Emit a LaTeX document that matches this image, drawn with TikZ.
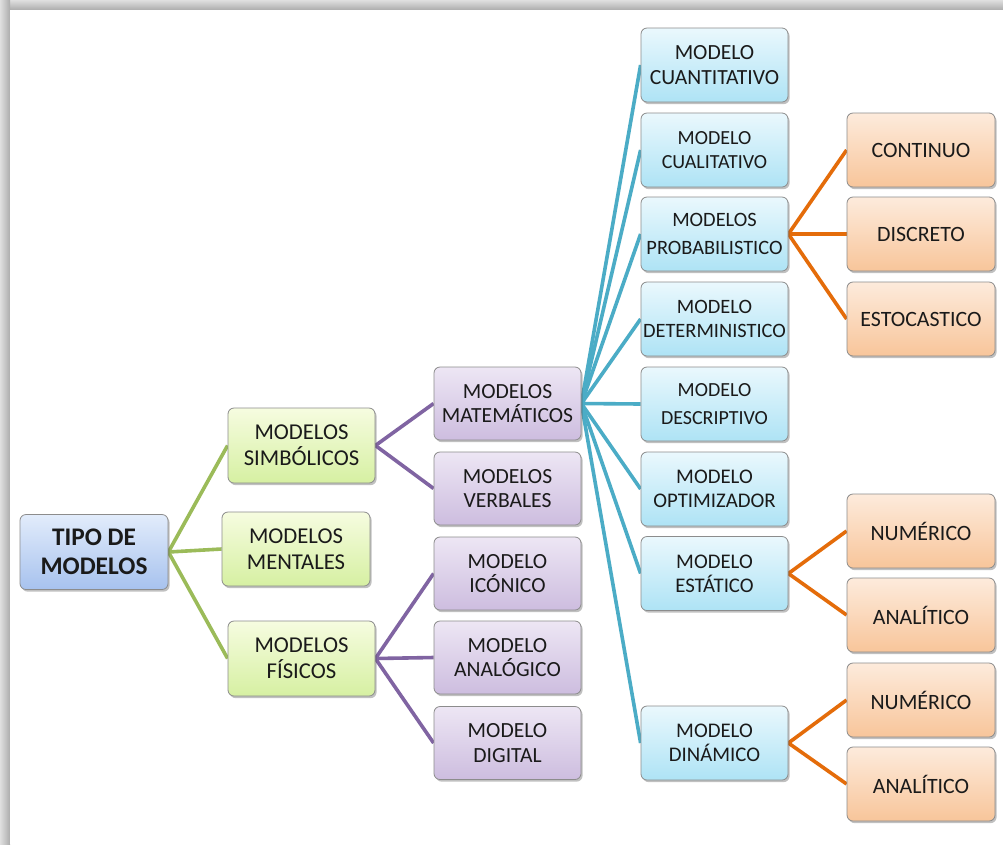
\documentclass[tikz,border=0pt]{standalone}
\usepackage{fontspec}
\setmainfont{Carlito}
\usetikzlibrary{shadows}
\pgfdeclarelayer{bg}
\pgfdeclarelayer{edges}
\pgfsetlayers{bg,edges,main}

\definecolor{gline}{HTML}{9BBB59}
\definecolor{pline}{HTML}{8064A2}
\definecolor{cline}{HTML}{4BACC6}
\definecolor{oline}{HTML}{E46C0A}
\definecolor{rootT}{HTML}{E2ECFB}
\definecolor{rootB}{HTML}{A7C2EE}
\definecolor{greenT}{HTML}{F6FCE0}
\definecolor{greenB}{HTML}{D6F0A2}
\definecolor{purpT}{HTML}{EDE6F4}
\definecolor{purpB}{HTML}{CDBDDF}
\definecolor{cyanT}{HTML}{EAF8FD}
\definecolor{cyanB}{HTML}{AEE3F5}
\definecolor{orT}{HTML}{FDEBDC}
\definecolor{orB}{HTML}{F8C59A}
\definecolor{boxedge}{HTML}{8C8C8C}
\definecolor{textc}{HTML}{1A1A1A}

\tikzset{
  box/.style={rectangle, rounded corners=4.5pt, draw=boxedge, line width=0.6pt,
    minimum width=110.25pt, minimum height=55.5pt, inner sep=0pt, align=center,
    text=textc,
    drop shadow={opacity=0.35, shadow xshift=1.2pt, shadow yshift=-1.6pt, fill=black!70}},
  rootbox/.style={box, top color=rootT, bottom color=rootB, minimum width=111pt, minimum height=56.25pt,
    font=\fontsize{19}{21.5}\selectfont\bfseries},
  greenbox/.style={box, top color=greenT, bottom color=greenB, minimum height=56.25pt,
    font=\fontsize{17}{19.5}\selectfont},
  purpbox/.style={box, top color=purpT, bottom color=purpB, minimum height=54.75pt,
    font=\fontsize{16.2}{18.6}\selectfont},
  cyanbox/.style={box, top color=cyanT, bottom color=cyanB,
    font=\fontsize{15.6}{18}\selectfont},
  orbox/.style={box, top color=orT, bottom color=orB, minimum width=111pt,
    font=\fontsize{16.4}{19}\selectfont},
  conn/.style={line width=2.7pt},
}

\begin{document}
\begin{tikzpicture}[x=0.75pt,y=-0.75pt]
\useasboundingbox (0,0) rectangle (1003,844);
\begin{pgfonlayer}{bg}
  \fill[white] (0,0) rectangle (1003,844);
  \shade[top color=gray!25, bottom color=gray!65] (0,0) rectangle (1003,10);
  \shade[left color=gray!25, right color=gray!65] (0,0) rectangle (10,844);
  \fill[white] (10,10) rectangle (1003,844);
\end{pgfonlayer}

% root
\node[rootbox] (root) at (94,552) {TIPO DE\\MODELOS};

% level 1
\node[greenbox] (simb) at (301.5,445.5) {MODELOS\\SIMBÓLICOS};
\node[greenbox, minimum width=111pt, minimum height=55.5pt] (ment) at (296,549) {MODELOS\\MENTALES};
\node[greenbox] (fis) at (301.5,658.5) {MODELOS\\FÍSICOS};

% level 2
\node[purpbox] (mat) at (507.5,403.5) {MODELOS\\MATEMÁTICOS};
\node[purpbox] (verb) at (507.5,488.5) {MODELOS\\VERBALES};
\node[purpbox] (icon) at (507.5,573.5) {MODELO\\ICÓNICO};
\node[purpbox] (analog) at (507.5,657.5) {MODELO\\ANALÓGICO};
\node[purpbox] (digit) at (507.5,743) {MODELO\\DIGITAL};

% level 3
\node[cyanbox, font=\fontsize{16.2}{18.6}\selectfont] (cuant) at (714.5,65) {MODELO\\CUANTITATIVO};
\node[cyanbox, font=\fontsize{15}{17.5}\selectfont] (cual) at (714.5,150) {MODELO\\CUALITATIVO};
\node[cyanbox, font=\fontsize{15.3}{21}\selectfont] (prob) at (714.5,234) {MODELOS\\PROBABILISTICO};
\node[cyanbox, font=\fontsize{15.3}{17.5}\selectfont] (det) at (714.5,319) {MODELO\\DETERMINISTICO};
\node[cyanbox, font=\fontsize{15}{21}\selectfont] (desc) at (714.5,404) {MODELO\\DESCRIPTIVO};
\node[cyanbox] (opt) at (714.5,489) {MODELO\\OPTIMIZADOR};
\node[cyanbox] (est) at (714.5,573.5) {MODELO\\ESTÁTICO};
\node[cyanbox] (din) at (714.5,743) {MODELO\\DINÁMICO};

% level 4
\node[orbox] (cont) at (921,150) {CONTINUO};
\node[orbox] (disc) at (921,234) {DISCRETO};
\node[orbox] (esto) at (921,319) {ESTOCASTICO};
\node[orbox] (num1) at (921,531) {NUMÉRICO};
\node[orbox] (ana1) at (921,615) {ANALÍTICO};
\node[orbox] (num2) at (921,700) {NUMÉRICO};
\node[orbox] (ana2) at (921,784) {ANALÍTICO};

\begin{pgfonlayer}{edges}
  \foreach \t in {simb,ment,fis} \draw[conn, gline] (root.east) -- (\t.west);
  \foreach \t in {mat,verb} \draw[conn, pline] (simb.east) -- (\t.west);
  \foreach \t in {icon,analog,digit} \draw[conn, pline] (fis.east) -- (\t.west);
  \foreach \t in {cuant,cual,prob,det,desc,opt,est,din} \draw[conn, cline] (mat.east) -- (\t.west);
  \foreach \t in {cont,disc,esto} \draw[conn, oline] (prob.east) -- (\t.west);
  \foreach \t in {num1,ana1} \draw[conn, oline] (est.east) -- (\t.west);
  \foreach \t in {num2,ana2} \draw[conn, oline] (din.east) -- (\t.west);
\end{pgfonlayer}
\end{tikzpicture}
\end{document}
